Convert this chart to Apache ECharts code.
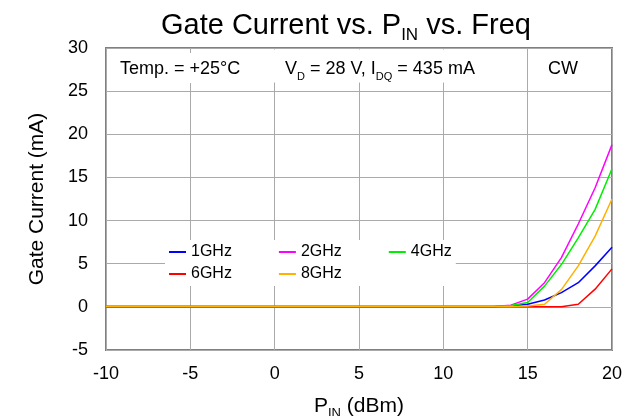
<!DOCTYPE html>
<html>
<head>
<meta charset="utf-8">
<style>html,body{margin:0;padding:0;background:#fff;}#c{width:639px;height:416px;}</style>
<script src="https://cdn.jsdelivr.net/npm/echarts@6/dist/echarts.min.js"></script>
</head>
<body>
<div id="c"></div>
<script>
// P_IN (dBm)
const pIn = [-10,-9,-8,-7,-6,-5,-4,-3,-2,-1,0,1,2,3,4,5,6,7,8,9,10,11,12,13,14,15,16,17,18,19,20];
// Gate current (mA)
const g1GHz = [0.05,0.05,0.05,0.05,0.05,0.05,0.05,0.05,0.05,0.05,0.05,0.05,0.05,0.05,0.05,0.05,0.05,0.05,0.05,0.05,0.05,0.05,0.05,0.05,0.1,0.3,0.8,1.65,2.8,4.75,6.9];
const g2GHz = [0.05,0.05,0.05,0.05,0.05,0.05,0.05,0.05,0.05,0.05,0.05,0.05,0.05,0.05,0.05,0.05,0.05,0.05,0.05,0.05,0.05,0.05,0.05,0.05,0.2,0.9,2.8,5.7,9.6,13.8,18.8];
const g4GHz = [0.05,0.05,0.05,0.05,0.05,0.05,0.05,0.05,0.05,0.05,0.05,0.05,0.05,0.05,0.05,0.05,0.05,0.05,0.05,0.05,0.05,0.05,0.05,0.05,0.15,0.5,2.4,4.9,8.0,11.3,16.0];
const g6GHz = [0,0,0,0,0,0,0,0,0,0,0,0,0,0,0,0,0,0,0,0,0,0,0,0,0,0,0,0,0.3,2.05,4.4];
const g8GHz = [0.05,0.05,0.05,0.05,0.05,0.05,0.05,0.05,0.05,0.05,0.05,0.05,0.05,0.05,0.05,0.05,0.05,0.05,0.05,0.05,0.05,0.05,0.05,0.05,0.05,0.1,0.3,2.0,4.75,8.2,12.5];
const seriesNames = ['1GHz','2GHz','4GHz','6GHz','8GHz'];
const seriesValues = [g1GHz,g2GHz,g4GHz,g6GHz,g8GHz];
const seriesColors = ['#0000ff','#ff00ff','#00ee00','#ff0000','#ffb000'];
const xTicks = {min:-10,max:20,interval:5};
const yTicks = {min:-5,max:30,interval:5};

const FONT = 'Liberation Sans';
const chart = echarts.init(document.getElementById('c'), null, {renderer:'canvas'});
const legendCommon = {
  orient:'horizontal', icon:'rect', itemWidth:17, itemHeight:2, itemGap:47,
  backgroundColor:'#ffffff',
  textStyle:{fontFamily:FONT,fontSize:16,color:'#000'}
};
chart.setOption({
  animation:false,
  backgroundColor:'#ffffff',
  title:[
    {text:'Gate Current vs. P{sub|IN} vs. Freq', left:161, top:11, padding:0,
     textStyle:{fontFamily:FONT,fontSize:29,fontWeight:'normal',color:'#000',
       rich:{sub:{fontFamily:FONT,fontSize:17,lineHeight:17,padding:[20,0,0,0],verticalAlign:'middle',color:'#000'}}}},
    {text:'Temp. = +25°C', left:112, top:53, padding:[6,20,4,8], backgroundColor:'#ffffff',
     textStyle:{fontFamily:FONT,fontSize:18,lineHeight:20,fontWeight:'normal',color:'#000'}},
    {text:'V{s|D} = 28 V, I{s|DQ} = 435 mA', left:271, top:53, padding:[6,20,0,14], backgroundColor:'#ffffff',
     textStyle:{fontFamily:FONT,fontSize:18,lineHeight:20,fontWeight:'normal',color:'#000',
       rich:{s:{fontFamily:FONT,fontSize:11,lineHeight:11,padding:[16,0,0,0],verticalAlign:'middle',color:'#000'}}}},
    {text:'CW', left:548, top:59, padding:0,
     textStyle:{fontFamily:FONT,fontSize:18,lineHeight:20,fontWeight:'normal',color:'#000'}}
  ],
  legend:[
    Object.assign({}, legendCommon, {data:seriesNames.slice(0,3), left:165, top:240, padding:[4,4,3,4]}),
    Object.assign({}, legendCommon, {data:seriesNames.slice(3), left:165, top:263, padding:[3,114,4,4]})
  ],
  grid:{left:106,right:27,top:48,bottom:66,show:true,borderColor:'#808080',borderWidth:2,
        containLabel:false,outerBoundsMode:'none'},
  xAxis:{
    type:'value', min:xTicks.min, max:xTicks.max, interval:xTicks.interval,
    name:'P{sub|IN} (dBm)', nameLocation:'middle', nameGap:46,
    nameTextStyle:{fontFamily:FONT,fontSize:21,color:'#000',
      rich:{sub:{fontFamily:FONT,fontSize:13,lineHeight:13,padding:[14,0,0,0],verticalAlign:'middle',color:'#000'}}},
    axisLine:{show:false}, axisTick:{show:false},
    axisLabel:{fontFamily:FONT,fontSize:18,color:'#000',margin:15},
    splitLine:{show:true,lineStyle:{color:'#aaaaaa',width:1}}
  },
  yAxis:{
    type:'value', min:yTicks.min, max:yTicks.max, interval:yTicks.interval,
    name:'Gate Current (mA)', nameLocation:'middle', nameGap:58, nameRotate:90,
    nameTextStyle:{fontFamily:FONT,fontSize:21,color:'#000'},
    axisLine:{show:false}, axisTick:{show:false},
    axisLabel:{fontFamily:FONT,fontSize:18,color:'#000',margin:18},
    splitLine:{show:true,lineStyle:{color:'#aaaaaa',width:1}}
  },
  series: seriesNames.map((n,i)=>({
    name:n, type:'line', showSymbol:false, symbol:'none',
    color:seriesColors[i],
    lineStyle:{width:1.5,color:seriesColors[i]},
    data: pIn.map((x,j)=>[x, seriesValues[i][j]])
  }))
});
</script>
</body>
</html>
